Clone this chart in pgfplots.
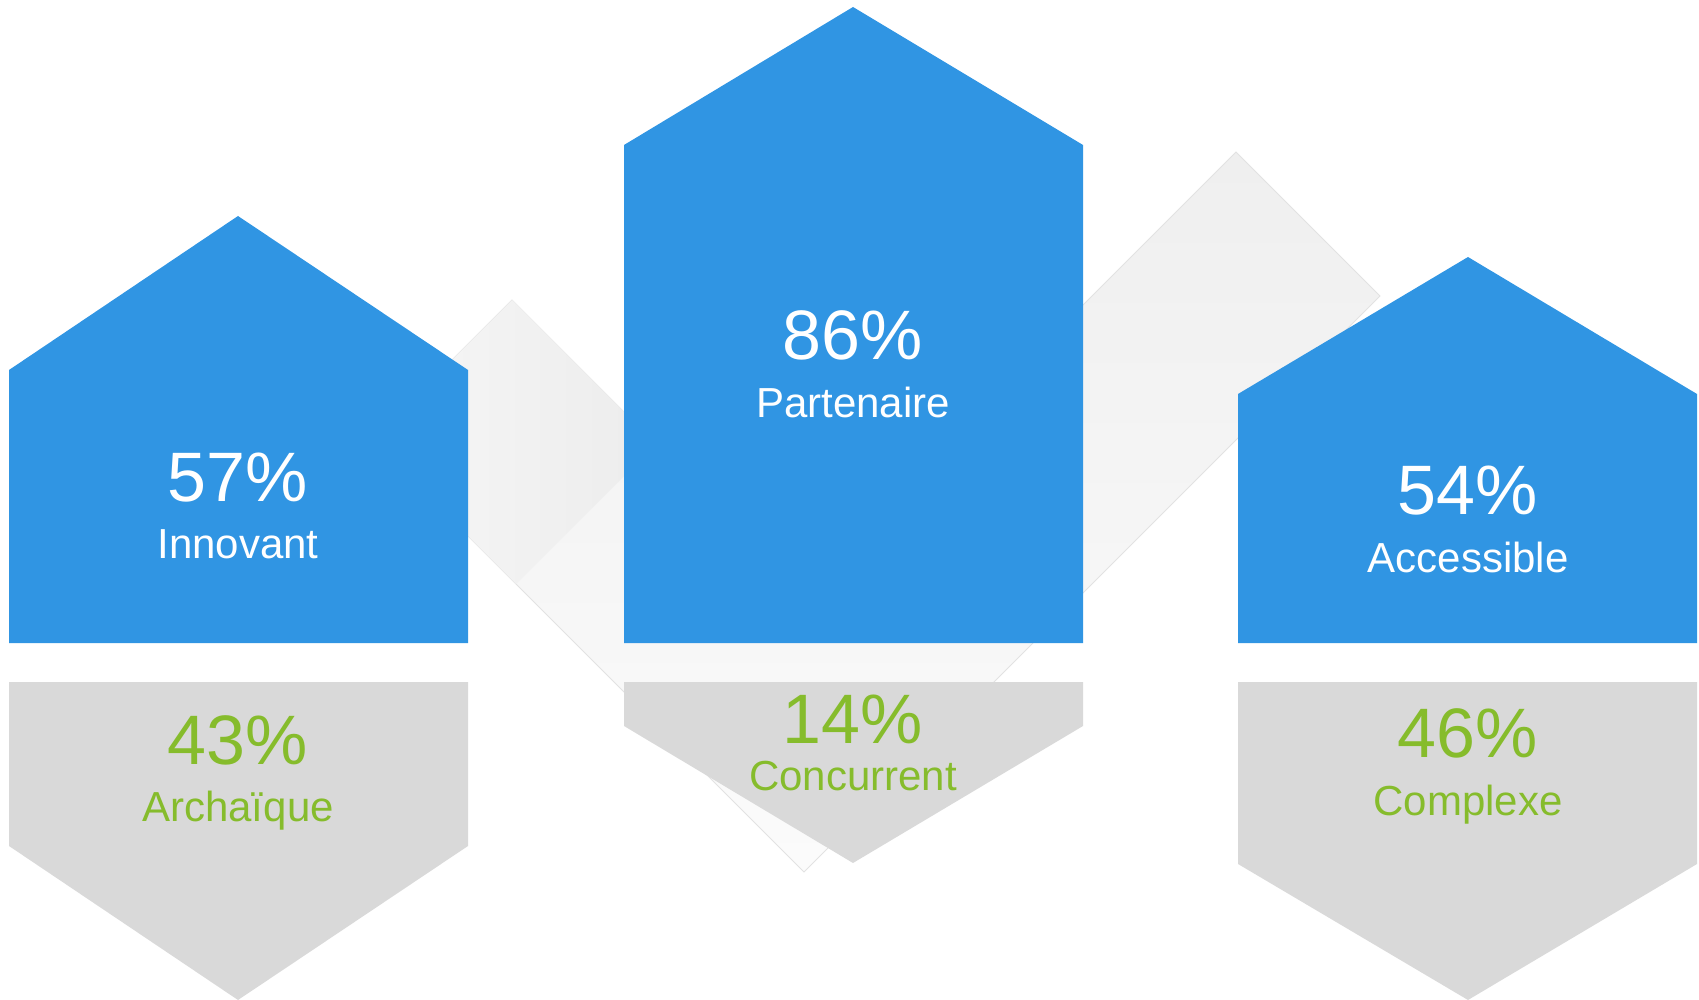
\documentclass[border=0pt]{standalone}
\usepackage{fontspec}
\setmainfont{Liberation Sans}
\usepackage{pgfplots}
\pgfplotsset{compat=1.18}

\definecolor{bleu}{HTML}{3095E3}
\definecolor{gris}{HTML}{D9D9D9}
\definecolor{vert}{HTML}{86BC2C}
\definecolor{fondA}{HTML}{EFEFEF}
\definecolor{fondB}{HTML}{FBFBFB}
\definecolor{carreA}{HTML}{F7F7F7}
\definecolor{carreB}{HTML}{ECECEC}
\definecolor{bord}{HTML}{E2E2E2}

\newcommand{\pct}{\fontsize{35}{40}\selectfont}
\newcommand{\lab}{\fontsize{21}{25}\selectfont}

\begin{document}
\begin{tikzpicture}
\begin{axis}[
    scale only axis,
    width=849.5pt, height=500pt,
    xmin=0, xmax=1699,
    ymin=0, ymax=1000,
    y dir=reverse,
    hide axis,
    clip=false,
]
% page frame
\addplot[draw=none, forget plot] coordinates {(0,0) (1699,1000)};

% faint ribbon in the background
\addplot[draw=bord, line width=0.4pt, top color=fondA, bottom color=fondB]
    coordinates {(372,440) (804,872) (1380,296) (1236,152) (800,588) (512,300) (372,440)};
\addplot[draw=none, left color=carreA, right color=carreB]
    coordinates {(512,300) (656,444) (516,584) (372,440)};

% upper pentagons (blue)
\addplot[draw=none, fill=bleu] coordinates {(9,643) (9,370) (238,216) (468,370) (468,643)};
\addplot[draw=none, fill=bleu] coordinates {(624,643) (624,145) (853,7) (1083,145) (1083,643)};
\addplot[draw=none, fill=bleu] coordinates {(1238,643) (1238,394) (1468,257) (1697,394) (1697,643)};

% lower pentagons (grey)
\addplot[draw=none, fill=gris] coordinates {(9,682) (468,682) (468,846) (238,1000) (9,846)};
\addplot[draw=none, fill=gris] coordinates {(624,682) (1083,682) (1083,726) (853,863) (624,726)};
\addplot[draw=none, fill=gris] coordinates {(1238,682) (1697,682) (1697,864) (1468,1000) (1238,864)};

% labels
\node[anchor=base, inner sep=0, text=white, font=\pct] at (axis cs:238,502) {57\%};
\node[anchor=base, inner sep=0, text=white, font=\lab] at (axis cs:238,558) {Innovant};
\node[anchor=base, inner sep=0, text=white, font=\pct] at (axis cs:853,360) {86\%};
\node[anchor=base, inner sep=0, text=white, font=\lab] at (axis cs:853,417) {Partenaire};
\node[anchor=base, inner sep=0, text=white, font=\pct] at (axis cs:1468,515) {54\%};
\node[anchor=base, inner sep=0, text=white, font=\lab] at (axis cs:1468,572) {Accessible};

\node[anchor=base, inner sep=0, text=vert, font=\pct] at (axis cs:238,764) {43\%};
\node[anchor=base, inner sep=0, text=vert, font=\lab] at (axis cs:238,821) {Archaïque};
\node[anchor=base, inner sep=0, text=vert, font=\pct] at (axis cs:853,743) {14\%};
\node[anchor=base, inner sep=0, text=vert, font=\lab] at (axis cs:853,790) {Concurrent};
\node[anchor=base, inner sep=0, text=vert, font=\pct] at (axis cs:1468,757) {46\%};
\node[anchor=base, inner sep=0, text=vert, font=\lab] at (axis cs:1468,815) {Complexe};
\end{axis}
\end{tikzpicture}
\end{document}
